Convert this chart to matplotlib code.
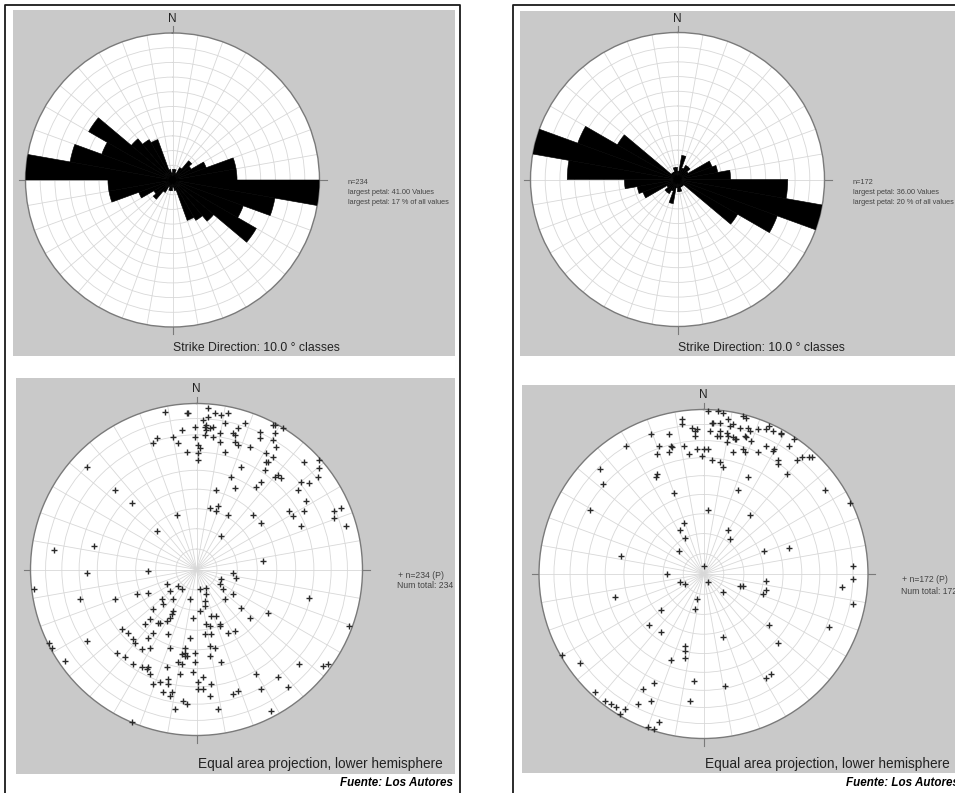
import numpy as np
import matplotlib.pyplot as plt
from matplotlib.patches import Rectangle

plt.rcParams['font.family'] = ['Liberation Sans', 'DejaVu Sans']

W, H = 955, 793

# rose diagrams: counts per 10 degree strike class (0-180, mirrored to 180-360)
rose_classes = np.arange(0, 180, 10)
left_counts = [3, 3, 2, 4, 7, 6, 10, 18, 18, 41, 29, 21, 27, 15, 13, 12, 3, 2]
right_counts = [2, 6, 3, 4, 4, 3, 9, 10, 13, 27, 36, 26, 17, 2, 2, 2, 3, 3]

# totals printed in the stereonet legends
left_total = 234
right_total = 172

# poles, equal area net coordinates (east, north), net radius = 1
left_poles = [
    (-0.19, 0.95), (-0.06, 0.94), (-0.05, 0.94), (0.07, 0.97), (0.11, 0.94), (0.15, 0.93),
    (0.19, 0.94), (0.07, 0.92), (0.04, 0.90), (0.17, 0.88), (0.29, 0.88), (0.06, 0.87),
    (0.05, 0.86), (0.08, 0.85), (0.10, 0.86), (0.06, 0.84), (-0.01, 0.86), (-0.09, 0.84),
    (0.25, 0.85), (0.22, 0.82), (0.23, 0.81), (0.14, 0.82), (0.46, 0.87), (0.47, 0.87),
    (0.52, 0.85), (0.38, 0.83), (0.47, 0.82), (0.38, 0.79), (0.46, 0.78), (0.05, 0.81),
    (0.10, 0.80), (-0.01, 0.80), (-0.14, 0.80), (-0.24, 0.79), (-0.26, 0.76), (-0.11, 0.76),
    (0.01, 0.75), (0.02, 0.73), (0.14, 0.77), (0.23, 0.77), (0.25, 0.75), (0.32, 0.74),
    (0.48, 0.74), (0.17, 0.71), (-0.06, 0.71), (0.01, 0.70), (0.01, 0.66), (0.42, 0.70),
    (0.46, 0.68), (0.42, 0.65), (0.43, 0.65), (0.74, 0.66), (-0.66, 0.62), (0.27, 0.62),
    (0.41, 0.60), (0.65, 0.65), (0.74, 0.61), (0.73, 0.56), (0.47, 0.56), (0.49, 0.57),
    (0.51, 0.55), (0.39, 0.53), (0.36, 0.50), (0.21, 0.56), (0.23, 0.49), (0.63, 0.53),
    (0.68, 0.52), (0.61, 0.48), (0.12, 0.48), (-0.49, 0.48), (-0.39, 0.40), (0.08, 0.37),
    (0.13, 0.38), (0.12, 0.35), (0.19, 0.33), (0.34, 0.33), (0.66, 0.41), (0.56, 0.35),
    (0.58, 0.32), (0.65, 0.35), (0.83, 0.35), (0.87, 0.37), (0.83, 0.31), (0.39, 0.28),
    (0.63, 0.26), (0.90, 0.26), (-0.12, 0.33), (-0.24, 0.23), (0.15, 0.20), (-0.62, 0.14),
    (-0.86, 0.12), (0.40, 0.05),
    (-0.66, -0.02), (-0.29, -0.01), (-0.98, -0.12), (0.22, -0.02), (0.24, -0.05), (0.15, -0.06),
    (0.14, -0.09), (0.16, -0.12), (0.22, -0.15), (-0.18, -0.09), (-0.11, -0.10), (-0.09, -0.12),
    (0.02, -0.12), (0.06, -0.11), (-0.16, -0.13), (0.06, -0.15), (-0.29, -0.14), (-0.36, -0.15),
    (-0.70, -0.18), (-0.49, -0.18), (-0.21, -0.18), (-0.14, -0.18), (-0.04, -0.18), (0.05, -0.19),
    (0.17, -0.18), (-0.20, -0.21), (0.05, -0.22), (0.02, -0.25), (0.27, -0.23), (0.68, -0.17),
    (-0.26, -0.24), (-0.14, -0.25), (-0.15, -0.27), (-0.16, -0.29), (-0.18, -0.31), (-0.28, -0.30),
    (-0.22, -0.32), (-0.23, -0.32), (-0.31, -0.33), (-0.02, -0.29), (0.09, -0.28), (0.12, -0.28),
    (0.06, -0.33), (0.08, -0.34), (0.14, -0.33), (0.14, -0.34), (0.32, -0.29), (0.43, -0.26),
    (0.92, -0.34), (-0.45, -0.36), (-0.41, -0.38), (-0.38, -0.42), (-0.37, -0.44), (-0.26, -0.38),
    (-0.29, -0.41), (-0.17, -0.39), (-0.04, -0.41), (0.05, -0.39), (0.09, -0.39), (0.19, -0.38),
    (0.23, -0.37), (-0.66, -0.43), (-0.89, -0.44), (-0.87, -0.47), (-0.33, -0.48), (-0.28, -0.47),
    (-0.16, -0.47), (-0.07, -0.47), (-0.07, -0.50), (-0.07, -0.52), (-0.09, -0.51), (-0.06, -0.52),
    (-0.01, -0.50), (0.08, -0.46), (0.11, -0.47), (0.08, -0.52), (-0.48, -0.50), (-0.43, -0.53),
    (-0.79, -0.55), (-0.38, -0.57), (-0.33, -0.59), (-0.30, -0.60), (-0.29, -0.59), (-0.28, -0.63),
    (-0.18, -0.59), (-0.11, -0.56), (-0.09, -0.57), (-0.10, -0.63), (-0.01, -0.56), (-0.02, -0.62),
    (0.15, -0.56), (0.62, -0.57), (0.76, -0.58), (0.79, -0.57), (-0.26, -0.69), (-0.22, -0.68),
    (-0.17, -0.66), (-0.17, -0.69), (0.01, -0.68), (0.04, -0.65), (0.09, -0.69), (0.36, -0.63),
    (0.49, -0.65), (0.39, -0.72), (0.55, -0.71), (0.01, -0.72), (0.04, -0.72), (0.08, -0.76),
    (0.22, -0.75), (0.25, -0.73), (-0.20, -0.74), (-0.15, -0.74), (-0.16, -0.76), (-0.08, -0.79),
    (-0.06, -0.81), (-0.13, -0.84), (0.13, -0.84), (0.45, -0.85), (-0.39, -0.92),
]

right_poles = [
    (0.03, 0.99), (0.09, 0.99), (0.12, 0.98), (0.24, 0.96), (0.26, 0.95), (-0.13, 0.94),
    (-0.13, 0.91), (0.05, 0.92), (0.06, 0.92), (0.10, 0.92), (0.10, 0.87), (0.15, 0.94),
    (0.16, 0.90), (0.18, 0.91), (0.22, 0.89), (0.27, 0.89), (0.28, 0.87), (0.33, 0.88),
    (0.38, 0.88), (0.40, 0.90), (0.42, 0.87), (0.47, 0.86), (0.47, 0.85), (0.55, 0.82),
    (-0.07, 0.89), (-0.05, 0.87), (-0.04, 0.88), (-0.05, 0.84), (0.04, 0.87), (0.08, 0.84),
    (0.10, 0.84), (0.14, 0.86), (0.15, 0.84), (0.18, 0.83), (0.19, 0.82), (0.20, 0.82),
    (0.25, 0.84), (0.26, 0.83), (0.29, 0.81), (0.14, 0.80), (-0.32, 0.85), (-0.21, 0.85),
    (-0.47, 0.78), (-0.27, 0.78), (-0.28, 0.73), (-0.20, 0.78), (-0.19, 0.77), (-0.21, 0.74),
    (-0.12, 0.78), (-0.09, 0.73), (-0.04, 0.76), (-0.01, 0.72), (0.00, 0.76), (0.03, 0.76),
    (0.18, 0.74), (0.24, 0.76), (0.25, 0.74), (0.33, 0.74), (0.38, 0.78), (0.43, 0.76),
    (0.42, 0.75), (0.52, 0.78), (0.45, 0.69), (0.45, 0.67), (0.57, 0.69), (0.60, 0.71),
    (0.64, 0.71), (0.66, 0.71), (0.05, 0.69), (0.10, 0.68), (0.12, 0.65), (0.51, 0.61),
    (-0.63, 0.64), (-0.61, 0.55), (-0.28, 0.61), (-0.29, 0.59), (0.27, 0.59), (0.74, 0.51),
    (-0.18, 0.49), (0.21, 0.51), (-0.69, 0.39), (0.03, 0.39), (0.28, 0.36), (0.89, 0.43),
    (-0.12, 0.31), (-0.14, 0.27), (-0.11, 0.22), (0.15, 0.27), (0.16, 0.21), (-0.15, 0.14),
    (0.37, 0.14), (0.52, 0.16), (-0.50, 0.11), (0.00, 0.05), (0.91, 0.05), (-0.22, 0.00),
    (0.91, -0.03), (-0.14, -0.05), (-0.11, -0.06), (0.03, -0.05), (0.22, -0.07), (0.24, -0.07),
    (0.38, -0.04), (0.38, -0.10), (0.36, -0.12), (0.84, -0.08), (0.91, -0.18), (-0.54, -0.14),
    (-0.04, -0.15), (-0.05, -0.21), (0.12, -0.11), (-0.26, -0.22), (-0.33, -0.31), (-0.26, -0.35),
    (0.40, -0.31), (0.76, -0.32), (0.12, -0.38), (0.45, -0.42), (-0.11, -0.44), (-0.11, -0.47),
    (-0.11, -0.51), (-0.20, -0.52), (-0.86, -0.49), (-0.75, -0.54), (0.38, -0.63), (0.41, -0.61),
    (-0.30, -0.66), (-0.06, -0.65), (0.13, -0.68), (-0.37, -0.70), (-0.32, -0.77), (-0.08, -0.77),
    (-0.40, -0.79), (-0.66, -0.72), (-0.60, -0.77), (-0.56, -0.79), (-0.53, -0.81), (-0.48, -0.82),
    (-0.51, -0.85), (-0.27, -0.90), (-0.34, -0.93), (-0.30, -0.94),
]

GRAY = '#c9c9c9'
GRID = '#d8d8d8'
RIM = '#7a7a7a'
TXT = '#222222'

fig = plt.figure(figsize=(W / 100, H / 100), dpi=100, facecolor='white')

# pixel-space background: frames, grey panels, labels
bg = fig.add_axes([0, 0, 1, 1])
bg.set_xlim(0, W)
bg.set_ylim(H, 0)
bg.axis('off')

for x0, y0, x1, y1 in [(13, 10, 455, 356), (520, 11, 960, 356),
                       (16, 378, 455, 774), (522, 385, 960, 773)]:
    bg.add_patch(Rectangle((x0, y0), x1 - x0, y1 - y0, facecolor=GRAY, edgecolor='none'))

bg.plot([5, 5, 459.5, 459.5], [800, 5, 5, 800], color='#1a1a1a', lw=1.3)
bg.plot([513, 513, 970], [800, 5, 5], color='#1a1a1a', lw=1.3)


def polar_at(cx, cy, r):
    ax = fig.add_axes([(cx - r) / W, 1 - (cy + r) / H, 2 * r / W, 2 * r / H],
                      projection='polar')
    ax.set_theta_zero_location('N')
    ax.set_theta_direction(-1)
    ax.set_ylim(0, 1)
    ax.set_facecolor('white')
    ax.set_xticks(np.deg2rad(np.arange(0, 360, 10)))
    ax.set_xticklabels([])
    ax.set_yticklabels([])
    ax.tick_params(length=0)
    ax.grid(True, color=GRID, lw=0.6)
    ax.spines['polar'].set_color(RIM)
    ax.spines['polar'].set_linewidth(1.0)
    ax.set_axisbelow(True)
    # cardinal ticks and N label
    d = 7
    bg.plot([cx, cx], [cy - r - d, cy - r], color=RIM, lw=0.8)
    bg.plot([cx, cx], [cy + r, cy + r + d], color=RIM, lw=0.8)
    bg.plot([cx - r - d, cx - r], [cy, cy], color=RIM, lw=0.8)
    bg.plot([cx + r, cx + r + d], [cy, cy], color=RIM, lw=0.8)
    bg.text(cx, cy - r - d - 1, 'N', ha='center', va='bottom', fontsize=8.5,
            color=TXT)
    return ax


def rose(cx, cy, r, counts, info_x):
    ax = polar_at(cx, cy, r)
    ax.set_yticks(np.linspace(0.1, 0.9, 9))
    ax.set_yticklabels([])
    full = np.concatenate([counts, counts])
    edges = np.deg2rad(np.concatenate([rose_classes, rose_classes + 180]))
    ax.bar(edges, full / full.max(), width=np.deg2rad(10), align='edge',
           color='black', edgecolor='black', linewidth=0.4, zorder=3)
    ax.set_ylim(0, 1)
    n = counts.sum()
    peak = counts.max()
    info = [f'n={n}', f'largest petal: {peak:.2f} Values',
            f'largest petal: {int(100 * peak / n)} % of all values']
    for i, s in enumerate(info):
        bg.text(info_x, 183 + 10 * i, s, fontsize=5.3, color='#444444', va='center')
    bg.text(cx, 348, 'Strike Direction: 10.0 \u00b0 classes', fontsize=8.8,
            color=TXT, va='center', ha='left')


def net(cx, cy, r, poles, total, leg_x, leg_y):
    ax = polar_at(cx, cy, r)
    dips = np.arange(10, 90, 10)
    ax.set_yticks(np.sqrt(2) * np.sin(np.deg2rad(dips / 2)))
    ax.set_yticklabels([])
    pts = np.array(poles)
    ax.plot(np.arctan2(pts[:, 0], pts[:, 1]), np.hypot(pts[:, 0], pts[:, 1]), '+',
            color='#2a2a2a', ms=5, mew=1.0, zorder=3, clip_on=False)
    ax.set_ylim(0, 1)
    bg.text(leg_x, leg_y, f'+ n={total} (P)', fontsize=6.2, color='#444444', va='center')
    bg.text(leg_x - 1, leg_y + 11, f'Num total: {total}', fontsize=6.2, color='#444444',
            va='center')
    bg.text(cx + 1, 764, 'Equal area projection, lower hemisphere', fontsize=9.8,
            color=TXT, va='center', ha='left')


rose(172.5, 180, 147, np.array(left_counts), 348)
rose(677.5, 179.5, 147, np.array(right_counts), 853)
net(196.5, 569.5, 166, left_poles, left_total, 398, 575)
net(703.5, 574, 164.5, right_poles, right_total, 902, 580)

bg.text(453, 783, 'Fuente: Los Autores', fontsize=8.4, style='italic', weight='bold',
        ha='right', va='center', color='black')
bg.text(846, 783, 'Fuente: Los Autores', fontsize=8.4, style='italic', weight='bold',
        ha='left', va='center', color='black')

fig.savefig('out.png', dpi=100, facecolor='white')
